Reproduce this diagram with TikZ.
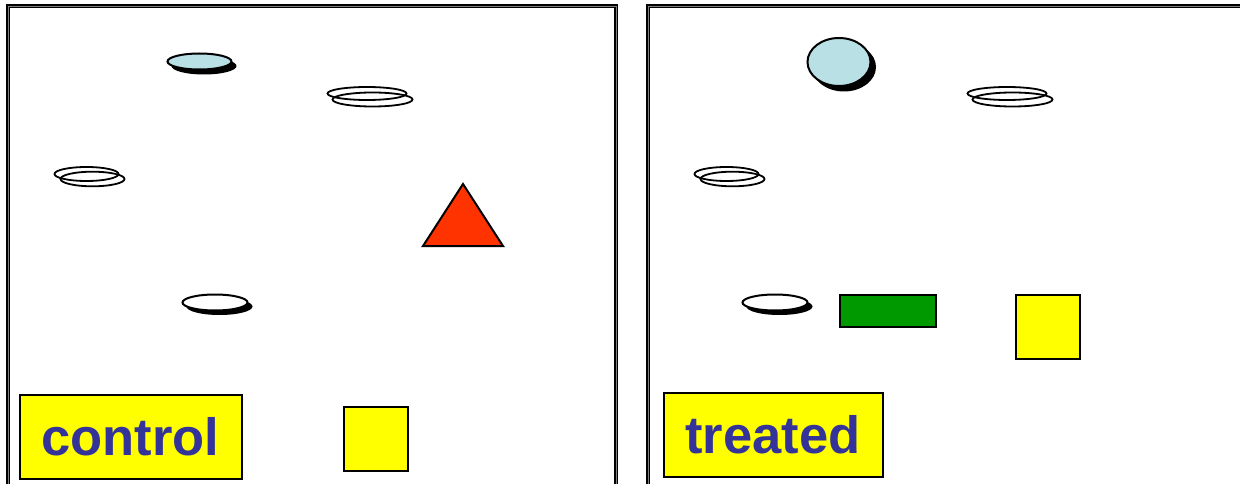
\documentclass[tikz,border=0pt]{standalone}
\usepackage{fontspec}
\setmainfont{Liberation Sans}
\definecolor{lblue}{HTML}{B9E0E5}
\definecolor{tred}{HTML}{FF3300}
\definecolor{tgreen}{HTML}{009900}
\definecolor{tyellow}{HTML}{FFFF00}
\definecolor{tnavy}{HTML}{333399}
\begin{document}
\begin{tikzpicture}[x=1pt,y=-1pt,
  frame/.style={draw=black,line width=1.4pt,double=gray,double distance=0.8pt},
  outl/.style={draw=black,line width=2pt},
  ring/.style={draw=black,line width=1.8pt},
  shadowfill/.style={fill=black},
  labelbox/.style={draw=black,line width=2pt,fill=tyellow,inner sep=0pt,
    font=\fontsize{52.5}{60}\selectfont\bfseries,text=tnavy},
  sq/.style={draw=black,line width=2pt,fill=tyellow}]
\useasboundingbox (0,0) rectangle (1240,484);
\clip (0,0) rectangle (1240,484);
% frames
\draw[frame] (8,500) -- (8,6) -- (616,6) -- (616,500);
\draw[frame] (648,500) -- (648,6) -- (1260,6);

% ---- left panel ----
% light blue ellipse with shadow
\fill[shadowfill] (204,66) ellipse [x radius=32.5, y radius=8.5];
\draw[outl,fill=lblue] (199.5,61.5) ellipse [x radius=32, y radius=8];
% ring top right
\draw[ring] (372.5,99.5) ellipse [x radius=40, y radius=7];
\draw[ring] (367,93.5) ellipse [x radius=39.5, y radius=6.5];
% ring left
\draw[ring] (92.5,179) ellipse [x radius=32, y radius=7.3];
\draw[ring] (86.5,174) ellipse [x radius=32, y radius=7];
% triangle
\draw[line width=2pt,fill=tred,line join=miter] (463,184) -- (503,246) -- (423,246) -- cycle;
% white ellipse with shadow
\fill[shadowfill] (219.5,306.5) ellipse [x radius=33, y radius=8.5];
\draw[outl,fill=white] (215,302.5) ellipse [x radius=32.5, y radius=8];
% label and square
\node[labelbox,minimum width=222pt,minimum height=84pt] (ctrl) at (130.5,436.5) {control};
\draw[sq] (343.5,406.5) rectangle (407.5,470.5);

% ---- right panel ----
\fill[shadowfill] (844,67) ellipse [x radius=32, y radius=24.5];
\draw[outl,fill=lblue] (839,62) ellipse [x radius=31.5, y radius=24];
\draw[ring] (1012.5,99.5) ellipse [x radius=40, y radius=7];
\draw[ring] (1007,93.5) ellipse [x radius=39.5, y radius=6.5];
\draw[ring] (732.5,179) ellipse [x radius=32, y radius=7.3];
\draw[ring] (726.5,174) ellipse [x radius=32, y radius=7];
\fill[shadowfill] (779.5,306.5) ellipse [x radius=33, y radius=8.5];
\draw[outl,fill=white] (775,302.5) ellipse [x radius=32.5, y radius=8];
\draw[line width=2pt,fill=tgreen] (839.5,294.5) rectangle (935.5,326.5);
\draw[sq] (1015.5,294.5) rectangle (1079.5,358.5);
\node[labelbox,minimum width=219pt,minimum height=84pt] (trt) at (773,434.5) {treated};
\end{tikzpicture}
\end{document}
